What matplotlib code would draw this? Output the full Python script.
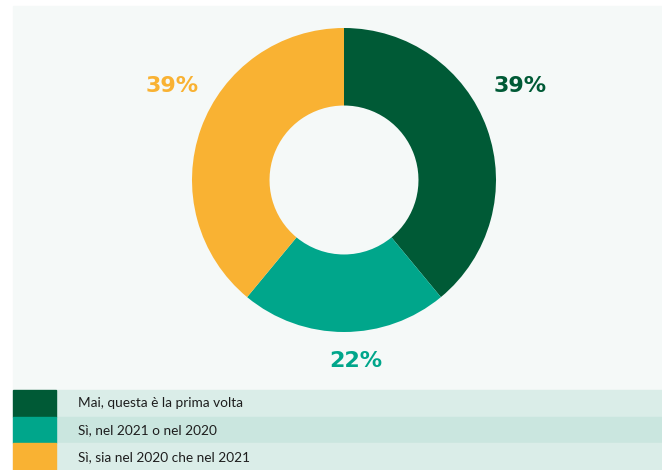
import matplotlib.pyplot as plt
from matplotlib.patches import Rectangle

# risposte (percentuali)
categorie = ['Mai, questa è la prima volta',
             'Sì, nel 2021 o nel 2020',
             'Sì, sia nel 2020 che nel 2021']
valori = [39, 22, 39]
colori = ['#005a36', '#00a68b', '#f9b233']

W, H = 662, 470
fig = plt.figure(figsize=(W / 100, H / 100), dpi=100)
fig.patch.set_facecolor('white')

# pannello di sfondo
fig.patches.append(Rectangle((13 / W, 0), 1 - 13 / W, (H - 6) / H,
                             transform=fig.transFigure, color='#f5f9f8', zorder=0))

# ciambella
cx, cy, r = 344, H - 180, 152
ax = fig.add_axes([(cx - r) / W, (cy - r) / H, 2 * r / W, 2 * r / H], zorder=5)
ax.patch.set_visible(False)
ax.pie(valori, colors=colori, startangle=90, counterclock=False, radius=1,
       wedgeprops=dict(width=0.51, linewidth=0))
ax.set_xlim(-1, 1)
ax.set_ylim(-1, 1)
ax.set_aspect('equal')
ax.axis('off')

pos_etichette = [(1.16, 0.62), (0.08, -1.19), (-1.13, 0.62)]
for v, c, (x, y) in zip(valori, colori, pos_etichette):
    ax.text(x, y, f'{v}%', color=c, fontsize=16, fontweight='bold',
            family='DejaVu Sans', ha='center', va='center', clip_on=False)

# legenda
sfondi_righe = ['#daede8', '#cae6df', '#daede8']
top = H - 390
h_riga = 80 / 3
for i, (lab, c, bg) in enumerate(zip(categorie, colori, sfondi_righe)):
    y0 = top - (i + 1) * h_riga
    fig.patches.append(Rectangle((56 / W, y0 / H), 1 - 56 / W, h_riga / H,
                                 transform=fig.transFigure, color=bg, zorder=1))
    fig.patches.append(Rectangle((13 / W, y0 / H), 43 / W, h_riga / H,
                                 transform=fig.transFigure, color=c, zorder=2))
    fig.text(78 / W, (y0 + h_riga / 2) / H, lab, fontsize=9.8,
             family='Lato', color='#1e1e1e', va='center', ha='left')

fig.savefig('out.png', dpi=100)
